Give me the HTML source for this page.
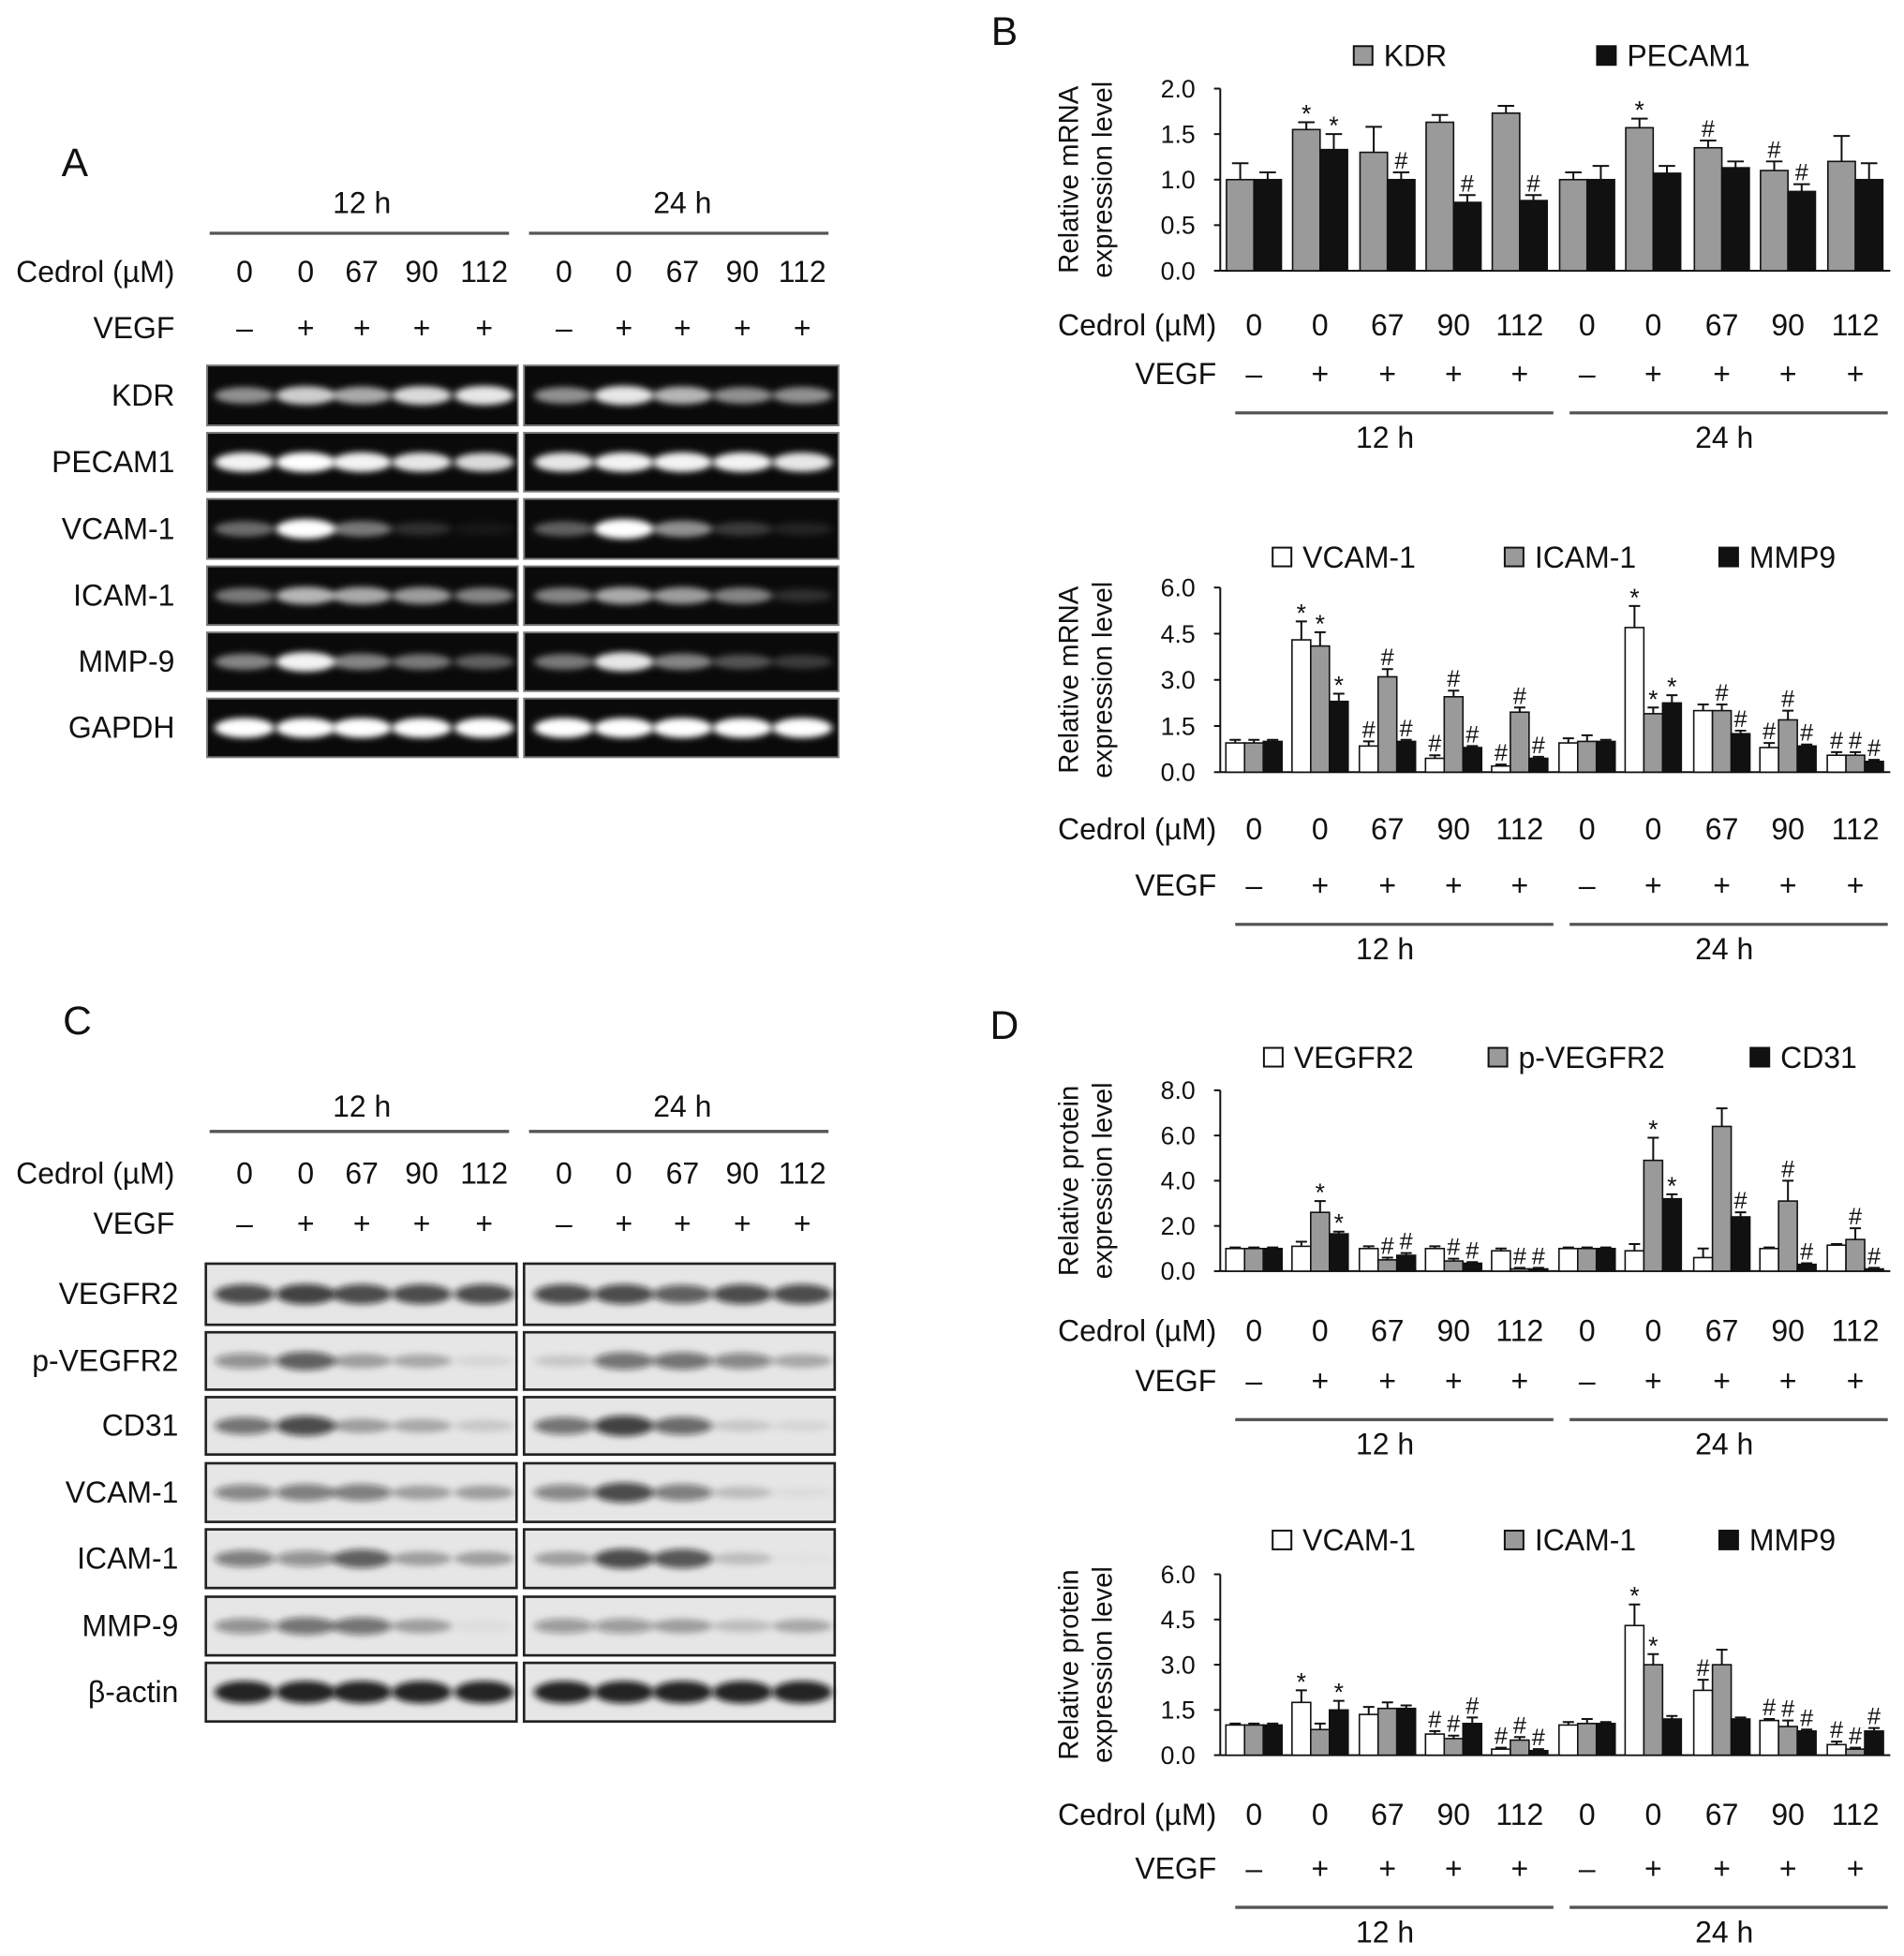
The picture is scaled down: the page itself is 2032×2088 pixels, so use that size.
<!DOCTYPE html>
<html><head><meta charset="utf-8"><style>
html,body{margin:0;padding:0;background:#fff;}
svg{display:block;font-family:"Liberation Sans",Arial,sans-serif;}
</style></head><body>
<svg id="fig" width="2032" height="2088" viewBox="0 0 1526 1568" preserveAspectRatio="none" xmlns="http://www.w3.org/2000/svg">
<defs>
<filter id="blurW" x="-20%" y="-100%" width="140%" height="300%"><feGaussianBlur stdDeviation="3 2.5"/></filter>
<filter id="blurD" x="-20%" y="-100%" width="140%" height="300%"><feGaussianBlur stdDeviation="3 2.5"/></filter>
</defs>
</svg>
<script>
// ---------- chart data ----------
const categories = ["0","0","67","90","112","0","0","67","90","112"];
const vegfLabels = ["–","+","+","+","+","–","+","+","+","+"];
// Panel B top (mRNA)
const bKdr = [1.0,1.55,1.3,1.63,1.73,1.0,1.57,1.35,1.1,1.2];
const bKdrErr = [0.18,0.08,0.28,0.08,0.08,0.08,0.1,0.08,0.1,0.28];
const bKdrMark = ["","*","","","","","*","#","#",""];
const bPecam = [1.0,1.33,1.0,0.75,0.77,1.0,1.07,1.13,0.87,1.0];
const bPecamErr = [0.08,0.17,0.08,0.08,0.06,0.15,0.08,0.07,0.08,0.18];
const bPecamMark = ["","*","#","#","#","","","","#",""];
const bTopTicks = [0,0.5,1.0,1.5,2.0];
// Panel B bottom (mRNA)
const bVcam = [0.95,4.3,0.85,0.45,0.2,0.95,4.7,2.0,0.8,0.55];
const bVcamErr = [0.1,0.6,0.15,0.1,0.05,0.15,0.7,0.2,0.15,0.1];
const bVcamMark = ["","*","#","#","#","","*","","#","#"];
const bIcam = [0.95,4.1,3.1,2.45,1.95,1.0,1.9,2.0,1.7,0.55];
const bIcamErr = [0.1,0.45,0.25,0.2,0.15,0.2,0.2,0.2,0.3,0.1];
const bIcamMark = ["","*","#","#","#","","*","#","#","#"];
const bMmp = [1.0,2.3,1.0,0.8,0.45,1.0,2.25,1.25,0.85,0.35];
const bMmpErr = [0.05,0.25,0.05,0.05,0.05,0.05,0.25,0.1,0.05,0.05];
const bMmpMark = ["","*","#","#","#","","*","#","#","#"];
const bBotTicks = [0,1.5,3.0,4.5,6.0];
// Panel D top (protein)
const dVegfr = [1.0,1.1,1.0,1.0,0.9,1.0,0.9,0.6,1.0,1.15];
const dVegfrErr = [0.05,0.2,0.1,0.1,0.1,0.05,0.3,0.4,0.05,0.05];
const dVegfrMark = ["","","","","","","","","",""];
const dPvegfr = [1.0,2.6,0.5,0.45,0.1,1.0,4.9,6.4,3.1,1.4];
const dPvegfrErr = [0.05,0.5,0.1,0.1,0.05,0.05,1.0,0.8,0.9,0.5];
const dPvegfrMark = ["","*","#","#","#","","*","","#","#"];
const dCd31 = [1.0,1.65,0.7,0.35,0.1,1.0,3.2,2.4,0.3,0.1];
const dCd31Err = [0.05,0.1,0.1,0.05,0.05,0.05,0.2,0.2,0.05,0.05];
const dCd31Mark = ["","*","#","#","#","","*","#","#","#"];
const dTopTicks = [0,2,4,6,8];
// Panel D bottom (protein)
const dVcam = [1.0,1.75,1.35,0.7,0.2,1.0,4.3,2.15,1.15,0.35];
const dVcamErr = [0.05,0.4,0.25,0.1,0.05,0.1,0.7,0.35,0.05,0.1];
const dVcamMark = ["","*","","#","#","","*","#","#","#"];
const dIcam = [1.0,0.85,1.55,0.55,0.5,1.05,3.0,3.0,0.95,0.2];
const dIcamErr = [0.05,0.2,0.2,0.1,0.1,0.15,0.35,0.5,0.2,0.05];
const dIcamMark = ["","","","#","#","","*","","#","#"];
const dMmp = [1.0,1.5,1.55,1.05,0.15,1.05,1.2,1.2,0.8,0.8];
const dMmpErr = [0.05,0.3,0.1,0.2,0.05,0.05,0.1,0.05,0.05,0.1];
const dMmpMark = ["","*","","#","#","","","","#","#"];
const dBotTicks = [0,1.5,3.0,4.5,6.0];

const svg = document.getElementById('fig');
const NS = 'http://www.w3.org/2000/svg';
function mk(tag, attrs, parent){
  const e = document.createElementNS(NS, tag);
  for (const k in attrs) e.setAttribute(k, attrs[k]);
  (parent||svg).appendChild(e);
  return e;
}
function txt(x,y,s,size,anchor,name,parent,extra){
  const t = mk('text',{x:x,y:y,'font-size':size,'text-anchor':anchor||'middle','fill':'#111'},parent);
  t.textContent = s;
  
  
  if (extra) for (const k in extra) t.setAttribute(k, extra[k]);
  return t;
}
function panelLabel(x,y,s){ txt(x,y,s,32,'middle','panel-label-'+s.toLowerCase()); }

// ---------- blots ----------
const gelLanes12 = [196,245,290,338,388];
const gelLanes24 = [452,500,547,595,643];
function headerRows(yTime, lineY, yCed, yVegf, prefix){
  txt(290,yTime,'12 h',24,'middle',prefix+'-time-12h');
  txt(547,yTime,'24 h',24,'middle',prefix+'-time-24h');
  let l = mk('line',{x1:168,x2:408,y1:lineY,y2:lineY,stroke:'#555','stroke-width':2.5});
   
  l = mk('line',{x1:424,x2:664,y1:lineY,y2:lineY,stroke:'#555','stroke-width':2.5});
   
  txt(140,yCed,'Cedrol (µM)',24,'end',prefix+'-cedrol-label');
  txt(140,yVegf,'VEGF',24,'end',prefix+'-vegf-label');
  const lanes = gelLanes12.concat(gelLanes24);
  lanes.forEach((x,i)=>{
    txt(x,yCed,categories[i],24,'middle',prefix+'-cedrol-dose');
    txt(x,yVegf,vegfLabels[i],24,'middle',prefix+'-vegf-sign');
  });
}
headerRows(171,187,226,271,'gel-a');
panelLabel(60,141,'A');
const gelRows = [
 ['KDR',293,341,[.55,.8,.65,.85,.9, .55,.9,.7,.55,.55]],
 ['PECAM1',347,394,[.95,1,.95,.9,.85, .9,.95,.95,.95,.9]],
 ['VCAM-1',400,448,[.4,1,.45,.15,.05, .35,1,.55,.2,.1]],
 ['ICAM-1',454,501,[.45,.7,.65,.6,.5, .5,.65,.6,.5,.15]],
 ['MMP-9',507,554,[.5,.95,.5,.45,.35, .45,.9,.5,.3,.2]],
 ['GAPDH',560,607,[1,1,1,1,1, 1,1,1,1,1]]
];
gelRows.forEach(r=>{
  const [name,y1,y2,ints]=r; const cy=(y1+y2)/2;
  txt(140,cy+8,name,24,'end','gel-a-label-'+name.toLowerCase());
  [[166,415,gelLanes12,0],[420,672,gelLanes24,5]].forEach(b=>{
    const g = mk('g',{});
    
    
    mk('rect',{x:b[0],y:y1,width:b[1]-b[0],height:y2-y1,fill:'#0a0a0a',stroke:'#777','stroke-width':1.5},g);
    b[2].forEach((x,i)=>{
      const v=ints[b[3]+i];
      mk('ellipse',{cx:x,cy:cy,rx:24,ry:5+v*3,fill:'#fff','fill-opacity':v,filter:'url(#blurW)'},g);
    });
  });
});
headerRows(895,907,949,989,'blot-c');
panelLabel(62,829,'C');
const blotRows = [
 ['VEGFR2',1013,1062,[.8,.85,.8,.8,.8, .8,.8,.7,.8,.8]],
 ['p-VEGFR2',1068,1114,[.45,.7,.35,.3,.08, .15,.6,.6,.5,.3]],
 ['CD31',1120,1166,[.6,.8,.35,.3,.15, .6,.85,.65,.15,.08]],
 ['VCAM-1',1173,1220,[.5,.55,.55,.35,.35, .5,.8,.55,.2,.05]],
 ['ICAM-1',1226,1273,[.55,.45,.7,.35,.35, .35,.8,.75,.2,.02]],
 ['MMP-9',1280,1327,[.45,.6,.6,.35,.05, .4,.4,.35,.2,.3]],
 ['β-actin',1333,1380,[1,1,1,1,1, 1,1,1,1,1]]
];
blotRows.forEach(r=>{
  const [name,y1,y2,ints]=r; const cy=(y1+y2)/2;
  txt(143,cy+8,name,24,'end','blot-c-label-'+name.toLowerCase());
  [[165,414,gelLanes12,0],[420,669,gelLanes24,5]].forEach(b=>{
    const g = mk('g',{});
    
    
    mk('rect',{x:b[0],y:y1,width:b[1]-b[0],height:y2-y1,fill:'#e6e6e6',stroke:'#222','stroke-width':2},g);
    b[2].forEach((x,i)=>{
      const v=ints[b[3]+i];
      mk('ellipse',{cx:x,cy:cy,rx:24,ry:4+v*5,fill:'#111','fill-opacity':v*0.9,filter:'url(#blurD)'},g);
    });
  });
});

// ---------- bar charts ----------
const groupX = [1005,1058,1112,1165,1218,1272,1325,1380,1433,1487];
function barChart(cfg){
  const g = mk('g',{});
  
  
  const y = v => cfg.y0 - (v/cfg.max)*(cfg.y0-cfg.yTop);
  cfg.series.forEach((s,i)=>{
    const lx = cfg.legendX[i];
    const r = mk('rect',{x:lx,y:cfg.legendY-16,width:15,height:15,fill:s.fill,stroke:'#111','stroke-width':1.5},g);
    
    
    txt(lx+24,cfg.legendY,s.label,24,'start','legend-label-'+s.label.toLowerCase(),g);
  });
  const ax = mk('line',{x1:978,x2:978,y1:cfg.yTop,y2:cfg.y0,stroke:'#111','stroke-width':1.5},g);
   
  const xa = mk('line',{x1:978,x2:1515,y1:cfg.y0,y2:cfg.y0,stroke:'#111','stroke-width':1.5},g);
   
  cfg.ticks.forEach(t=>{
    const tl = mk('line',{x1:973,x2:978,y1:y(t),y2:y(t),stroke:'#111','stroke-width':1.5},g);
     
    txt(958,y(t)+7,t.toFixed(1),20,'end','y-tick-label',g);
  });
  txt(0,0,cfg.title[0],22,'middle','y-axis-title',g,{transform:`translate(864,${(cfg.yTop+cfg.y0)/2}) rotate(-90)`});
  txt(0,0,cfg.title[1],22,'middle','y-axis-title',g,{transform:`translate(891,${(cfg.yTop+cfg.y0)/2}) rotate(-90)`});
  const n = cfg.series.length, w = cfg.barW;
  groupX.forEach((cx,gi)=>{
    cfg.series.forEach((s,si)=>{
      const bx = cx - n*w/2 + si*w;
      const v = s.vals[gi], e = s.err[gi];
      const bar = mk('rect',{x:bx,y:y(v),width:w,height:cfg.y0-y(v),fill:s.fill,stroke:'#111','stroke-width':1.2},g);
      
      
      const mx = bx+w/2, top = y(v+e);
      const eb = mk('path',{d:`M${mx},${y(v)} V${top} M${mx-w*0.3},${top} H${mx+w*0.3}`,stroke:'#111','stroke-width':1.5,fill:'none'},g);
       
      if (s.mark[gi]) txt(mx,top-(s.mark[gi]==='*'?0:3),s.mark[gi],s.mark[gi]==='*'?20:19,'middle','significance-mark',g);
    });
  });
  txt(975,cfg.cedY,'Cedrol (µM)',24,'end','cedrol-label',g);
  txt(975,cfg.cedY+cfg.vegfDy,'VEGF',24,'end','vegf-label',g);
  groupX.forEach((cx,i)=>{
    txt(cx,cfg.cedY,categories[i],24,'middle','cedrol-dose',g);
    txt(cx,cfg.cedY+cfg.vegfDy,vegfLabels[i],24,'middle','vegf-sign',g);
  });
  const ly = cfg.cedY+cfg.vegfDy+23;
  let l = mk('line',{x1:990,x2:1245,y1:ly,y2:ly,stroke:'#555','stroke-width':2.5},g);
   
  l = mk('line',{x1:1258,x2:1513,y1:ly,y2:ly,stroke:'#555','stroke-width':2.5},g);
   
  txt(1110,ly+28,'12 h',24,'middle','time-12h',g);
  txt(1382,ly+28,'24 h',24,'middle','time-24h',g);
}
const GRAY='#9a9a9a', BLK='#111', WHT='#fff';
panelLabel(805,36,'B');
barChart({name:'chart-b-mrna-kdr-pecam1',y0:217,yTop:71,max:2.0,ticks:bTopTicks,barW:22,
  title:['Relative mRNA','expression level'],legendY:53,legendX:[1085,1280],cedY:269,vegfDy:39,
  series:[{label:'KDR',fill:GRAY,vals:bKdr,err:bKdrErr,mark:bKdrMark},
          {label:'PECAM1',fill:BLK,vals:bPecam,err:bPecamErr,mark:bPecamMark}]});
barChart({name:'chart-b-mrna-adhesion',y0:619,yTop:471,max:6.0,ticks:bBotTicks,barW:15,
  title:['Relative mRNA','expression level'],legendY:455,legendX:[1020,1206,1378],cedY:673,vegfDy:45,
  series:[{label:'VCAM-1',fill:WHT,vals:bVcam,err:bVcamErr,mark:bVcamMark},
          {label:'ICAM-1',fill:GRAY,vals:bIcam,err:bIcamErr,mark:bIcamMark},
          {label:'MMP9',fill:BLK,vals:bMmp,err:bMmpErr,mark:bMmpMark}]});
panelLabel(805,833,'D');
barChart({name:'chart-d-protein-vegfr2',y0:1019,yTop:874,max:8.0,ticks:dTopTicks,barW:15,
  title:['Relative protein','expression level'],legendY:856,legendX:[1013,1193,1403],cedY:1075,vegfDy:40,
  series:[{label:'VEGFR2',fill:WHT,vals:dVegfr,err:dVegfrErr,mark:dVegfrMark},
          {label:'p-VEGFR2',fill:GRAY,vals:dPvegfr,err:dPvegfrErr,mark:dPvegfrMark},
          {label:'CD31',fill:BLK,vals:dCd31,err:dCd31Err,mark:dCd31Mark}]});
barChart({name:'chart-d-protein-adhesion',y0:1407,yTop:1262,max:6.0,ticks:dBotTicks,barW:15,
  title:['Relative protein','expression level'],legendY:1243,legendX:[1020,1206,1378],cedY:1463,vegfDy:43,
  series:[{label:'VCAM-1',fill:WHT,vals:dVcam,err:dVcamErr,mark:dVcamMark},
          {label:'ICAM-1',fill:GRAY,vals:dIcam,err:dIcamErr,mark:dIcamMark},
          {label:'MMP9',fill:BLK,vals:dMmp,err:dMmpErr,mark:dMmpMark}]});
</script>
</body></html>
